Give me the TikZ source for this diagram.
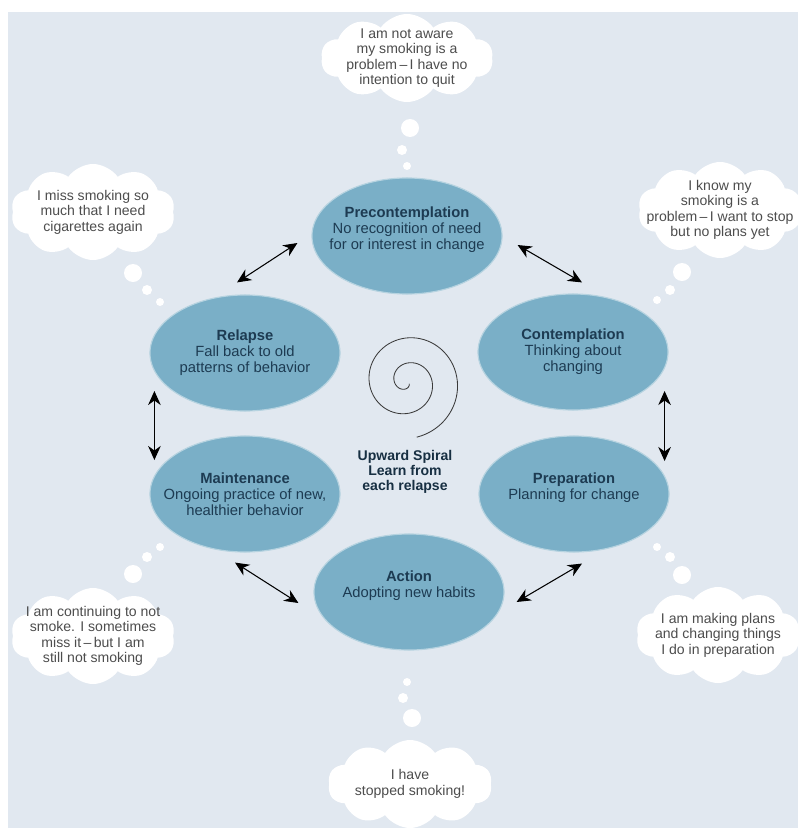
\documentclass[tikz,border=0pt]{standalone}
\usepackage{fontspec}
\setmainfont{Liberation Sans}
\usetikzlibrary{shapes.geometric}
\usetikzlibrary{shapes.symbols}
\usetikzlibrary{arrows.meta}
\usetikzlibrary{positioning}
\definecolor{bgblue}{HTML}{E1E8F0}
\definecolor{stageblue}{HTML}{7AAFC7}
\definecolor{stagetext}{HTML}{1D3B52}
\definecolor{cloudtext}{HTML}{4D4D4D}
\definecolor{spiralgray}{HTML}{3A3A3A}

\begin{document}
\begin{tikzpicture}[x=0.025cm,y=-0.025cm,>={Stealth[length=10pt,width=9pt]},
    stage node/.style={ellipse,fill=stageblue,draw=stageblue!55!white,line width=0.8pt,minimum width=4.75cm,minimum height=2.9cm,inner xsep=-22pt,inner ysep=0pt,align=center,text=stagetext,font=\fontsize{10.5}{11.5}\selectfont},
    cloud node/.style={cloud,cloud puffs=10,cloud puff arc=110,cloud ignores aspect,fill=white,minimum width=4.1cm,minimum height=2.4cm,inner xsep=-12pt,inner ysep=-8pt,align=center,text=cloudtext,font=\fontsize{10}{11}\selectfont},
    big bubble/.style={circle,fill=white,inner sep=0pt,minimum size=0.45cm},
    mid bubble/.style={circle,fill=white,inner sep=0pt,minimum size=0.25cm},
    small bubble/.style={circle,fill=white,inner sep=0pt,minimum size=0.2cm},
    link/.style={<->,line width=0.75pt,black}]
  \useasboundingbox (0,0) rectangle (798,828);
  \fill[bgblue] (8,12) rectangle (798,828);

  % stages
  \node[stage node] (pre) at (407,236) {\textbf{Precontemplation}\\No recognition of need\\for or interest in change\\\mbox{}};
  \node[stage node] (con) at (573,352) {\textbf{Contemplation}\\Thinking about\\changing};
  \node[stage node] (prep) at (574,494) {\textbf{Preparation}\\Planning for change\\\mbox{}};
  \node[stage node] (act) at (409,592) {\textbf{Action}\\Adopting new habits\\\mbox{}};
  \node[stage node] (main) at (245,494) {\textbf{Maintenance}\\Ongoing practice of new,\\healthier behavior};
  \node[stage node] (rel) at (245,353) {\textbf{Relapse}\\Fall back to old\\patterns of behavior};

  \path[link] ([shift={(-8,-12)}]rel.north) edge ([shift={(-14,7)}]pre.west);
  \path[link] ([shift={(15,9)}]pre.east) edge ([shift={(9,-11)}]con.north);
  \path[link] ([shift={(-4,39)}]con.east) edge ([shift={(-5,-33)}]prep.east);
  \path[link] ([shift={(8,11)}]prep.south) edge ([shift={(12,10)}]act.east);
  \path[link] ([shift={(-15,11)}]act.west) edge ([shift={(-10,10)}]main.south);
  \path[link] ([shift={(5,-34)}]main.west) edge ([shift={(5,38)}]rel.west);

  % spiral
  \draw[spiralgray,line width=0.6pt] plot[domain=40:800,samples=160,smooth] ({407+0.07*\x*cos(\x)},{382+0.07*\x*sin(\x)});
  \node[align=center,font=\bfseries\fontsize{10}{10.5}\selectfont,text=stagetext!80!black] (spiral) at (405,472) {Upward Spiral\\Learn from\\each relapse};

  % thoughts
  \node[cloud node,minimum width=4.3cm,minimum height=2.2cm] (tcloud) at (407,58) {I am not aware\\my smoking is a\\problem\,--\,I have no\\intention to quit};
  \node[big bubble] (t1) at (410,128) {};
  \node[mid bubble] (t2) at (402,150) {};
  \node[small bubble] (t3) at (407,166) {};

  \node[cloud node] (lcloud) at (93,212) {I miss smoking so\\much that I need\\cigarettes again};
  \node[big bubble] (l1) at (133,273) {};
  \node[mid bubble] (l2) at (147,290) {};
  \node[small bubble] (l3) at (160,302) {};

  \node[cloud node] (rcloud) at (720,210) {I know my\\smoking is a\\problem\,--\,I want to stop\\but no plans yet};
  \node[big bubble] (r1) at (682,272) {};
  \node[mid bubble] (r2) at (670,290) {};
  \node[small bubble] (r3) at (657,300) {};

  \node[cloud node] (blcloud) at (93,636) {I am continuing to not\\smoke. I sometimes\\miss it\,--\,but I am\\still not smoking};
  \node[big bubble] (bl1) at (133,574) {};
  \node[mid bubble] (bl2) at (147,557) {};
  \node[small bubble] (bl3) at (160,547) {};

  \node[cloud node] (brcloud) at (718,635) {I am making plans\\and changing things\\I do in preparation};
  \node[big bubble] (br1) at (682,575) {};
  \node[mid bubble] (br2) at (670,557) {};
  \node[small bubble] (br3) at (657,547) {};

  \node[cloud node,minimum height=2.2cm] (bcloud) at (410,784) {I have\\stopped smoking!};
  \node[big bubble] (b1) at (412,718) {};
  \node[mid bubble] (b2) at (403,698) {};
  \node[small bubble] (b3) at (407,682) {};
\end{tikzpicture}
\end{document}
